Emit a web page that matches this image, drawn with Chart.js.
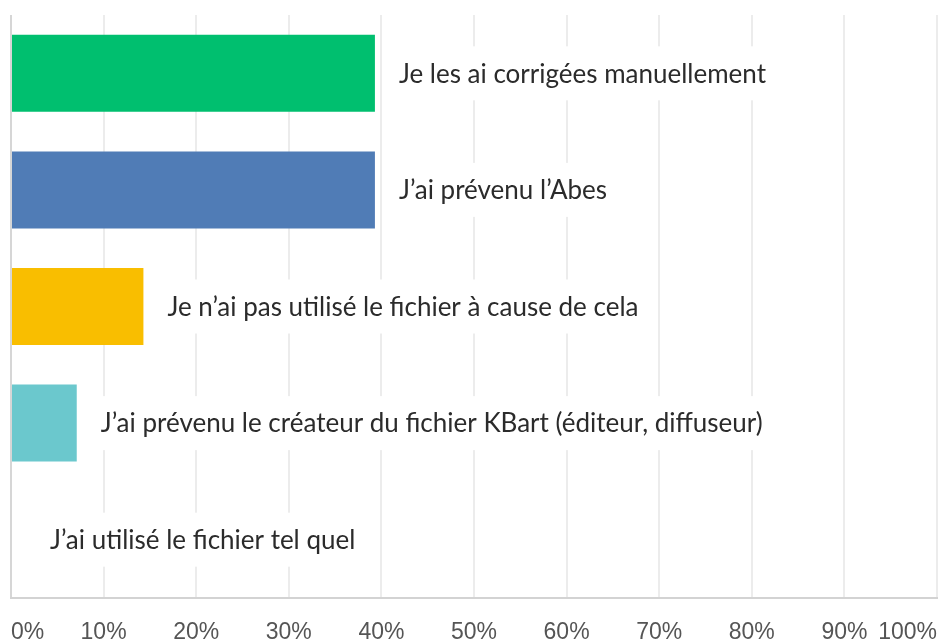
<!DOCTYPE html>
<html>
<head>
<meta charset="utf-8">
<script src="https://cdn.jsdelivr.net/npm/chart.js@4"></script>
<style>
  html, body { margin: 0; padding: 0; background: #fff; }
  #wrap { width: 941px; height: 644px; }
</style>
</head>
<body>
<div id="wrap"><canvas id="chart"></canvas></div>
<script>
const answers = [
    'Je les ai corrigées manuellement',
    'J\u2019ai prévenu l\u2019Abes',
    'Je n\u2019ai pas utilisé le fichier à cause de cela',
    'J\u2019ai prévenu le créateur du fichier KBart (éditeur, diffuseur)',
    'J\u2019ai utilisé le fichier tel quel'
];
const percents = [39.3, 39.3, 14.3, 7.1, 0];
const barColors = ['#00bf6f', '#507cb6', '#f9be00', '#6bc8cd', '#a0a0a0'];
const xTicks = [0, 10, 20, 30, 40, 50, 60, 70, 80, 90, 100];

// answer text drawn to the right of each bar, on a white box that hides the grid
const answerLabels = {
    id: 'answerLabels',
    afterDatasetsDraw(chart) {
        const { ctx, chartArea } = chart;
        const meta = chart.getDatasetMeta(0);
        ctx.save();
        ctx.font = '26px Lato';
        ctx.textBaseline = 'middle';
        ctx.textAlign = 'left';
        meta.data.forEach((bar, i) => {
            const text = answers[i];
            const x = Math.max(bar.x + 24, chartArea.left + 39);
            const w = ctx.measureText(text).width;
            ctx.fillStyle = '#ffffff';
            ctx.fillRect(x - 8, bar.y - 27, w + 16, 54);
            ctx.fillStyle = '#2b2b2b';
            ctx.fillText(text, x, bar.y + 1);
        });
        ctx.restore();
    }
};

new Chart(document.getElementById('chart').getContext('2d'), {
    type: 'bar',
    data: {
        labels: answers,
        datasets: [{
            data: percents,
            backgroundColor: barColors,
            categoryPercentage: 1,
            barPercentage: 0.66
        }]
    },
    options: {
        indexAxis: 'y',
        responsive: true,
        maintainAspectRatio: false,
        animation: false,
        layout: { padding: { left: 11, right: 4, top: 15, bottom: 0 } },
        plugins: {
            legend: { display: false },
            tooltip: { enabled: false }
        },
        scales: {
            x: {
                min: 0,
                max: 100,
                afterBuildTicks: axis => { axis.ticks = xTicks.map(v => ({ value: v })); },
                afterFit: axis => {
                    axis.height = 46;
                    axis.paddingLeft = 0;
                    axis.paddingRight = 0;
                },
                grid: {
                    drawTicks: false,
                    lineWidth: 2,
                    color: ctx => ctx.tick && ctx.tick.value === 0 ? '#d6d6d6' : '#ececec'
                },
                border: { display: true, color: '#d3d3d3', width: 2 },
                ticks: {
                    padding: 21,
                    align: 'inner',
                    color: '#555555',
                    font: { family: 'Liberation Sans', size: 23 },
                    callback: v => v + '%'
                }
            },
            y: { display: false }
        }
    },
    plugins: [answerLabels]
});
</script>
</body>
</html>
